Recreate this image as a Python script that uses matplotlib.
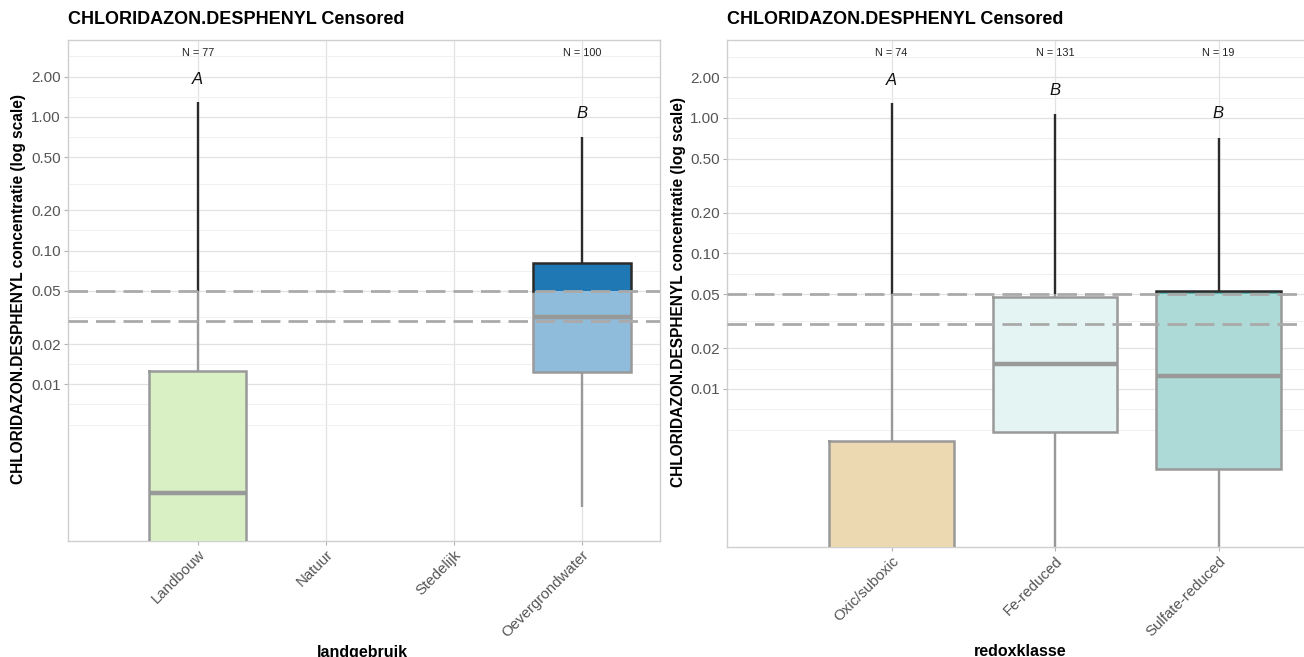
import matplotlib
matplotlib.use('Agg')
import matplotlib.pyplot as plt
import numpy as np
from matplotlib.colors import to_rgb
from matplotlib.ticker import NullFormatter

plt.rcParams['font.family'] = ['Liberation Sans', 'DejaVu Sans']

# ---------------- data ----------------
title = 'CHLORIDAZON.DESPHENYL Censored'
ylabel = 'CHLORIDAZON.DESPHENYL concentratie (log scale)'
detection_limit = 0.05
second_limit = 0.03

y_ticks = [0.01, 0.02, 0.05, 0.10, 0.20, 0.50, 1.00, 2.00]
y_tick_labels = ['0.01', '0.02', '0.05', '0.10', '0.20', '0.50', '1.00', '2.00']

land_cats = ['Landbouw', 'Natuur', 'Stedelijk', 'Oevergrondwater']
land_n = [77, None, None, 100]
land_wlow = [0.0003, None, None, 0.00122]
land_q1 = [0.0004, None, None, 0.0124]
land_med = [0.00155, None, None, 0.032]
land_q3 = [0.0126, None, None, 0.0805]
land_whigh = [1.29, None, None, 0.705]
land_letters = ['A', '', '', 'B']
land_letter_y = [1.9, None, None, 1.06]
land_colors = ['#b2df8a', None, None, '#1f78b4']

redox_cats = ['Oxic/suboxic', 'Fe-reduced', 'Sulfate-reduced']
redox_n = [74, 131, 19]
redox_wlow = [0.0002, 0.0003, 0.0003]
redox_q1 = [0.0004, 0.00484, 0.00257]
redox_med = [0.0005, 0.0153, 0.0125]
redox_q3 = [0.00415, 0.0476, 0.0528]
redox_whigh = [1.29, 1.06, 0.708]
redox_letters = ['A', 'B', 'B']
redox_letter_y = [1.9, 1.6, 1.07]
redox_colors = ['#d8b365', '#c7eae5', '#5ab4ac']

# ---------------- layout ----------------
W, H = 1304, 657
fig = plt.figure(figsize=(W / 100, H / 100), dpi=100)

def rect(l, t, r, b):
    return [l / W, (H - b) / H, (r - l) / W, (b - t) / H]

YMIN, YMAX = 0.00068, 3.79
BOX_W = 0.76
GRAY = '#999999'
DARK = '#2b2b2b'
EDGE_LW = 1.8

def draw_panel(ax, cats, n, wlow, q1, med, q3, whigh, letters, letter_y, colors, xlim):
    ax.set_yscale('log')
    ax.set_ylim(YMIN, YMAX)
    ax.set_xlim(*xlim)
    xs = np.arange(1, len(cats) + 1)
    for i, x in enumerate(xs):
        if n[i] is None:
            continue
        base = np.array(to_rgb(colors[i]))
        light = 0.5 * base + 0.5
        xl, xr = x - BOX_W / 2, x + BOX_W / 2
        lo_top = min(q3[i], detection_limit)
        # censored (below limit) part of the box
        ax.bar(x, lo_top - q1[i], bottom=q1[i], width=BOX_W, color=light,
               linewidth=0, zorder=3)
        if q3[i] < detection_limit:
            ax.plot([xl, xl, xr, xr, xl], [lo_top, q1[i], q1[i], lo_top, lo_top],
                    color=GRAY, lw=EDGE_LW, zorder=3.5, solid_joinstyle='miter')
        else:
            ax.plot([xl, xl, xr, xr], [lo_top, q1[i], q1[i], lo_top],
                    color=GRAY, lw=EDGE_LW, zorder=3.5, solid_joinstyle='miter')
        # part of the box above the limit
        if q3[i] > detection_limit:
            ax.bar(x, q3[i] - detection_limit, bottom=detection_limit, width=BOX_W,
                   color=base, linewidth=0, zorder=3)
            ax.plot([xl, xl, xr, xr], [detection_limit, q3[i], q3[i], detection_limit],
                    color=DARK, lw=EDGE_LW, zorder=3.5, solid_joinstyle='miter')
        # whiskers
        ax.vlines(x, max(q3[i], detection_limit), whigh[i], color=DARK, lw=1.7, zorder=2)
        if q3[i] < detection_limit:
            ax.vlines(x, q3[i], detection_limit, color=GRAY, lw=1.7, zorder=2)
        ax.vlines(x, wlow[i], q1[i], color=GRAY, lw=1.7, zorder=2)
        ax.hlines(med[i], xl, xr, color=GRAY, lw=3.2, zorder=4)
        ax.text(x, 3.0, f'N = {n[i]}', ha='center', va='center', fontsize=7.8, color='#222222')
        ax.text(x, letter_y[i], letters[i], ha='center', va='center', fontsize=12,
                style='italic', color='#111111')
    for lim in (detection_limit, second_limit):
        ax.axhline(lim, color='#aaaaaa', lw=2.0, linestyle=(0, (7.0, 2.9)), zorder=5)

    ax.set_xticks(xs)
    ax.set_xticklabels(cats, rotation=45, ha='right', va='top', rotation_mode='anchor',
                       fontsize=10.8, color='#555555')
    ax.set_yticks(y_ticks)
    ax.set_yticklabels(y_tick_labels, fontsize=11, color='#555555')
    yt = list(y_ticks)
    minors = [np.sqrt(a * b) for a, b in zip(yt[:-1], yt[1:])]
    minors += [0.005, np.sqrt(0.005 * 0.01), 2.0 * np.sqrt(2.0)]
    ax.set_yticks(minors, minor=True)
    ax.yaxis.set_minor_formatter(NullFormatter())
    ax.tick_params(axis='both', which='major', length=3, width=0.8, color='#b3b3b3', pad=2)
    ax.tick_params(axis='y', which='minor', length=0)
    ax.grid(which='major', color='#e2e2e2', lw=0.9)
    ax.grid(which='minor', axis='y', color='#f0f0f0', lw=0.7)
    ax.set_axisbelow(True)
    for s in ax.spines.values():
        s.set_color('#cfcfcf')
        s.set_linewidth(1.0)

ax1 = fig.add_axes(rect(67.6, 39.5, 659.6, 540.5))
draw_panel(ax1, land_cats, land_n, land_wlow, land_q1, land_med, land_q3, land_whigh,
           land_letters, land_letter_y, land_colors, (-0.017, 4.607))

ax2 = fig.add_axes(rect(726.9, 39.5, 1316.6, 547.2))
draw_panel(ax2, redox_cats, redox_n, redox_wlow, redox_q1, redox_med, redox_q3, redox_whigh,
           redox_letters, redox_letter_y, redox_colors, (-0.007, 3.6))

def ftext(x, y, s, **kw):
    fig.text(x / W, (H - y) / H, s, **kw)

ftext(67.6, 20, title, ha='left', va='center', fontsize=13, weight='bold')
ftext(726.9, 20, title, ha='left', va='center', fontsize=13, weight='bold')
ftext(19, 289, ylabel, ha='center', va='center', rotation=90, fontsize=11.2, weight='bold')
ftext(678, 292, ylabel, ha='center', va='center', rotation=90, fontsize=11.2, weight='bold')
ftext(362, 652, 'landgebruik', ha='center', va='center', fontsize=11.5, weight='bold')
ftext(1020, 652, 'redoxklasse', ha='center', va='center', fontsize=11.5, weight='bold')

fig.savefig('out.png', dpi=100)
